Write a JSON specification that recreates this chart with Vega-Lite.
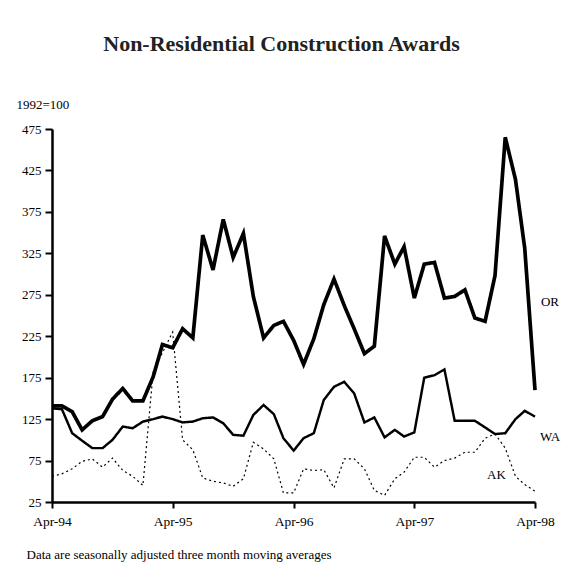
{
  "$schema": "https://vega.github.io/schema/vega-lite/v6.json",
  "width": 483,
  "height": 373,
  "autosize": {"type": "none"},
  "padding": {"left": 52, "top": 129, "right": 31, "bottom": 67},
  "background": "white",
  "config": {
    "view": {"stroke": null},
    "font": "Liberation Serif",
    "axis": {"labelFont": "Liberation Serif", "titleFont": "Liberation Serif", "labelColor": "black", "titleColor": "black", "domainColor": "black", "tickColor": "black", "grid": false}
  },
  "title": {
    "text": "Non-Residential Construction Awards",
    "font": "Liberation Serif",
    "fontSize": 22,
    "fontWeight": "bold",
    "color": "#222",
    "anchor": "middle",
    "frame": "group",
    "dx": -12,
    "offset": 42
  },
  "datasets": {
    "series": [
      {"m":"1994-04-01","s":"OR","v":141},{"m":"1994-05-01","s":"OR","v":141},{"m":"1994-06-01","s":"OR","v":134},{"m":"1994-07-01","s":"OR","v":112},{"m":"1994-08-01","s":"OR","v":123},{"m":"1994-09-01","s":"OR","v":128},{"m":"1994-10-01","s":"OR","v":149},{"m":"1994-11-01","s":"OR","v":162},{"m":"1994-12-01","s":"OR","v":147},
      {"m":"1995-01-01","s":"OR","v":147},{"m":"1995-02-01","s":"OR","v":176},{"m":"1995-03-01","s":"OR","v":215},{"m":"1995-04-01","s":"OR","v":211},{"m":"1995-05-01","s":"OR","v":234},{"m":"1995-06-01","s":"OR","v":223},{"m":"1995-07-01","s":"OR","v":347},{"m":"1995-08-01","s":"OR","v":305},{"m":"1995-09-01","s":"OR","v":366},{"m":"1995-10-01","s":"OR","v":320},{"m":"1995-11-01","s":"OR","v":349},{"m":"1995-12-01","s":"OR","v":273},
      {"m":"1996-01-01","s":"OR","v":223},{"m":"1996-02-01","s":"OR","v":238},{"m":"1996-03-01","s":"OR","v":243},{"m":"1996-04-01","s":"OR","v":220},{"m":"1996-05-01","s":"OR","v":191},{"m":"1996-06-01","s":"OR","v":222},{"m":"1996-07-01","s":"OR","v":263},{"m":"1996-08-01","s":"OR","v":294},{"m":"1996-09-01","s":"OR","v":262},{"m":"1996-10-01","s":"OR","v":234},{"m":"1996-11-01","s":"OR","v":204},{"m":"1996-12-01","s":"OR","v":213},
      {"m":"1997-01-01","s":"OR","v":346},{"m":"1997-02-01","s":"OR","v":312},{"m":"1997-03-01","s":"OR","v":333},{"m":"1997-04-01","s":"OR","v":271},{"m":"1997-05-01","s":"OR","v":312},{"m":"1997-06-01","s":"OR","v":314},{"m":"1997-07-01","s":"OR","v":271},{"m":"1997-08-01","s":"OR","v":273},{"m":"1997-09-01","s":"OR","v":281},{"m":"1997-10-01","s":"OR","v":247},{"m":"1997-11-01","s":"OR","v":243},{"m":"1997-12-01","s":"OR","v":298},
      {"m":"1998-01-01","s":"OR","v":465},{"m":"1998-02-01","s":"OR","v":414},{"m":"1998-03-01","s":"OR","v":331},{"m":"1998-04-01","s":"OR","v":160},
      {"m":"1994-04-01","s":"WA","v":138},{"m":"1994-05-01","s":"WA","v":137},{"m":"1994-06-01","s":"WA","v":108},{"m":"1994-07-01","s":"WA","v":99},{"m":"1994-08-01","s":"WA","v":90},{"m":"1994-09-01","s":"WA","v":90},{"m":"1994-10-01","s":"WA","v":100},{"m":"1994-11-01","s":"WA","v":116},{"m":"1994-12-01","s":"WA","v":114},
      {"m":"1995-01-01","s":"WA","v":122},{"m":"1995-02-01","s":"WA","v":125},{"m":"1995-03-01","s":"WA","v":128},{"m":"1995-04-01","s":"WA","v":125},{"m":"1995-05-01","s":"WA","v":121},{"m":"1995-06-01","s":"WA","v":122},{"m":"1995-07-01","s":"WA","v":126},{"m":"1995-08-01","s":"WA","v":127},{"m":"1995-09-01","s":"WA","v":120},{"m":"1995-10-01","s":"WA","v":106},{"m":"1995-11-01","s":"WA","v":105},{"m":"1995-12-01","s":"WA","v":130},
      {"m":"1996-01-01","s":"WA","v":142},{"m":"1996-02-01","s":"WA","v":131},{"m":"1996-03-01","s":"WA","v":102},{"m":"1996-04-01","s":"WA","v":87},{"m":"1996-05-01","s":"WA","v":102},{"m":"1996-06-01","s":"WA","v":108},{"m":"1996-07-01","s":"WA","v":148},{"m":"1996-08-01","s":"WA","v":164},{"m":"1996-09-01","s":"WA","v":170},{"m":"1996-10-01","s":"WA","v":156},{"m":"1996-11-01","s":"WA","v":121},{"m":"1996-12-01","s":"WA","v":127},
      {"m":"1997-01-01","s":"WA","v":103},{"m":"1997-02-01","s":"WA","v":112},{"m":"1997-03-01","s":"WA","v":104},{"m":"1997-04-01","s":"WA","v":109},{"m":"1997-05-01","s":"WA","v":175},{"m":"1997-06-01","s":"WA","v":178},{"m":"1997-07-01","s":"WA","v":185},{"m":"1997-08-01","s":"WA","v":123},{"m":"1997-09-01","s":"WA","v":123},{"m":"1997-10-01","s":"WA","v":123},{"m":"1997-11-01","s":"WA","v":115},{"m":"1997-12-01","s":"WA","v":107},
      {"m":"1998-01-01","s":"WA","v":108},{"m":"1998-02-01","s":"WA","v":125},{"m":"1998-03-01","s":"WA","v":135},{"m":"1998-04-01","s":"WA","v":128},
      {"m":"1994-04-01","s":"AK","v":56},{"m":"1994-05-01","s":"AK","v":59},{"m":"1994-06-01","s":"AK","v":65},{"m":"1994-07-01","s":"AK","v":74},{"m":"1994-08-01","s":"AK","v":77},{"m":"1994-09-01","s":"AK","v":67},{"m":"1994-10-01","s":"AK","v":78},{"m":"1994-11-01","s":"AK","v":63},{"m":"1994-12-01","s":"AK","v":56},
      {"m":"1995-01-01","s":"AK","v":45},{"m":"1995-02-01","s":"AK","v":182},{"m":"1995-03-01","s":"AK","v":205},{"m":"1995-04-01","s":"AK","v":230},{"m":"1995-05-01","s":"AK","v":100},{"m":"1995-06-01","s":"AK","v":88},{"m":"1995-07-01","s":"AK","v":54},{"m":"1995-08-01","s":"AK","v":50},{"m":"1995-09-01","s":"AK","v":48},{"m":"1995-10-01","s":"AK","v":44},{"m":"1995-11-01","s":"AK","v":53},{"m":"1995-12-01","s":"AK","v":97},
      {"m":"1996-01-01","s":"AK","v":89},{"m":"1996-02-01","s":"AK","v":77},{"m":"1996-03-01","s":"AK","v":36},{"m":"1996-04-01","s":"AK","v":36},{"m":"1996-05-01","s":"AK","v":65},{"m":"1996-06-01","s":"AK","v":63},{"m":"1996-07-01","s":"AK","v":64},{"m":"1996-08-01","s":"AK","v":42},{"m":"1996-09-01","s":"AK","v":77},{"m":"1996-10-01","s":"AK","v":77},{"m":"1996-11-01","s":"AK","v":65},{"m":"1996-12-01","s":"AK","v":39},
      {"m":"1997-01-01","s":"AK","v":33},{"m":"1997-02-01","s":"AK","v":53},{"m":"1997-03-01","s":"AK","v":61},{"m":"1997-04-01","s":"AK","v":79},{"m":"1997-05-01","s":"AK","v":79},{"m":"1997-06-01","s":"AK","v":67},{"m":"1997-07-01","s":"AK","v":75},{"m":"1997-08-01","s":"AK","v":78},{"m":"1997-09-01","s":"AK","v":85},{"m":"1997-10-01","s":"AK","v":85},{"m":"1997-11-01","s":"AK","v":102},{"m":"1997-12-01","s":"AK","v":107},
      {"m":"1998-01-01","s":"AK","v":90},{"m":"1998-02-01","s":"AK","v":56},{"m":"1998-03-01","s":"AK","v":46},{"m":"1998-04-01","s":"AK","v":38}
    ],
    "labels": [
      {"m":"1998-04-01","v":266,"t":"OR"},
      {"m":"1998-04-01","v":103,"t":"WA"},
      {"m":"1997-10-21","v":57,"t":"AK"}
    ]
  },
  "layer": [
    {
      "data": {"name": "series", "format": {"parse": {"m": "date:'%Y-%m-%d'"}}},
      "mark": {"type": "line", "color": "black", "strokeCap": "butt", "strokeJoin": "miter"},
      "encoding": {
        "x": {
          "field": "m", "type": "temporal",
          "scale": {"domain": [{"year":1994,"month":4,"date":1},{"year":1998,"month":4,"date":1}]},
          "axis": {
            "values": [{"year":1994,"month":4,"date":1},{"year":1995,"month":4,"date":1},{"year":1996,"month":4,"date":1},{"year":1997,"month":4,"date":1},{"year":1998,"month":4,"date":1}],
            "format": "%b-%y",
            "labelFontSize": 13.5,
            "labelPadding": 6,
            "labelFlush": false,
            "tickSize": 6,
            "tickWidth": 2,
            "domainWidth": 2.5,
            "title": "Data are seasonally adjusted three month moving averages",
            "titleFontSize": 13,
            "titleFontWeight": "normal",
            "titleAnchor": "start",
            "titleAlign": "left",
            "titleBaseline": "alphabetic",
            "titleX": -26,
            "titleY": 56
          }
        },
        "y": {
          "field": "v", "type": "quantitative",
          "scale": {"domain": [25, 475], "nice": false, "zero": false},
          "axis": {
            "values": [25,75,125,175,225,275,325,375,425,475],
            "labelFontSize": 13,
            "labelPadding": 4,
            "tickSize": 7,
            "tickWidth": 2,
            "domainWidth": 2.5,
            "title": "1992=100",
            "titleFontSize": 13,
            "titleFontWeight": "normal",
            "titleAngle": 0,
            "titleAlign": "left",
            "titleBaseline": "middle",
            "titleX": -36,
            "titleY": -25
          }
        },
        "detail": {"field": "s"},
        "strokeWidth": {"field": "s", "type": "nominal", "scale": {"domain": ["OR","WA","AK"], "range": [3.7, 1.2, 1.5]}, "legend": null},
        "strokeDash": {"field": "s", "type": "nominal", "scale": {"domain": ["OR","WA","AK"], "range": [[1,0],[1,0],[2,3]]}, "legend": null}
      }
    },
    {
      "data": {"name": "labels", "format": {"parse": {"m": "date:'%Y-%m-%d'"}}},
      "mark": {"type": "text", "font": "Liberation Serif", "fontSize": 13, "color": "black", "align": "center", "baseline": "middle", "dx": 15},
      "encoding": {
        "x": {"field": "m", "type": "temporal"},
        "y": {"field": "v", "type": "quantitative"},
        "text": {"field": "t"}
      }
    }
  ]
}
